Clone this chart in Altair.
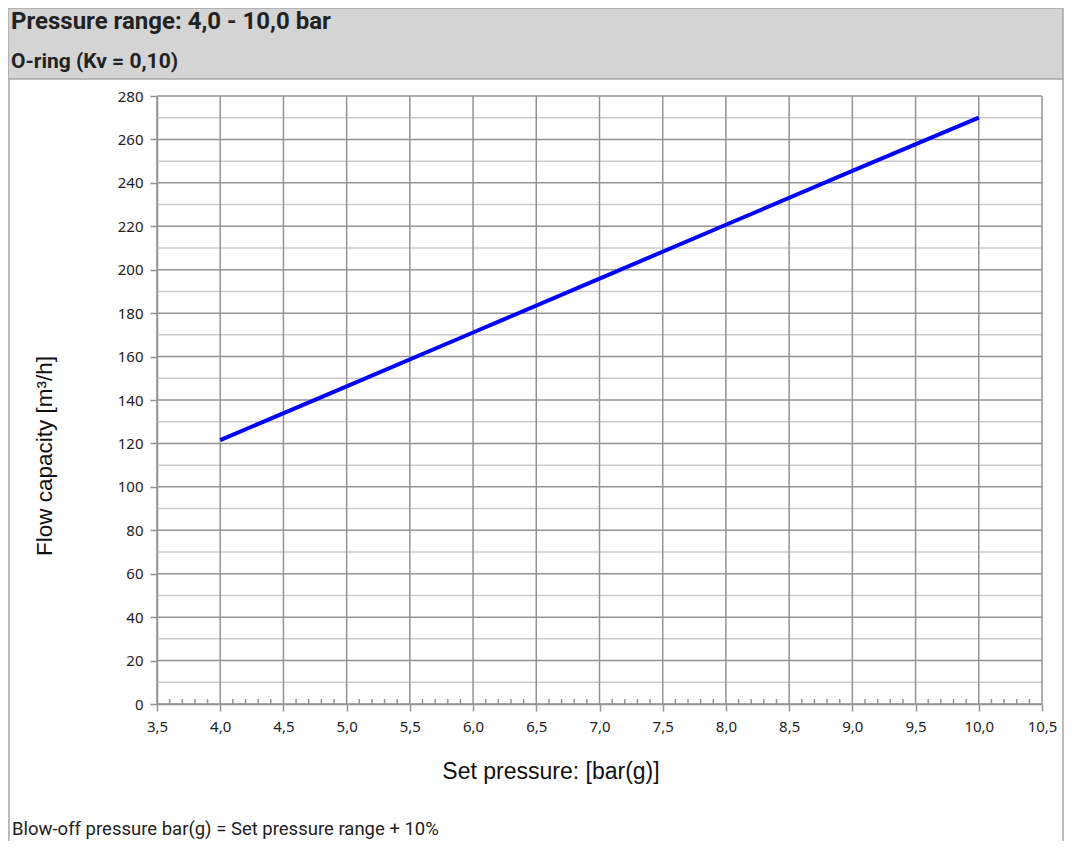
import altair as alt
import pandas as pd

# ---- data ----
pressure = [4.0, 5.0, 6.0, 7.0, 8.0, 9.0, 10.0]
flow = [121.5, 146.3, 171.1, 195.9, 220.7, 245.5, 270.0]

x_ticks = [3.5, 4.0, 4.5, 5.0, 5.5, 6.0, 6.5, 7.0, 7.5, 8.0, 8.5, 9.0, 9.5, 10.0, 10.5]
y_ticks = [0, 20, 40, 60, 80, 100, 120, 140, 160, 180, 200, 220, 240, 260, 280]
y_minor = [10, 30, 50, 70, 90, 110, 130, 150, 170, 190, 210, 230, 250, 270]
x_minor = [round(3.5 + i * 0.1, 1) for i in range(71) if i % 5 != 0]

title1 = "Pressure range: 4,0 - 10,0 bar"
title2 = "O-ring (Kv = 0,10)"
x_title = "Set pressure: [bar(g)]"
y_title = "Flow capacity [m³/h]"
note = "Blow-off pressure bar(g) = Set pressure range + 10%"

W, H = 885, 608
PAD = {"left": 149, "top": 88, "right": 22, "bottom": 137}

MAJOR = "#939393"
MINOR = "#cccccc"
TXT = "#222222"

xs = alt.Scale(domain=[3.5, 10.5], nice=False, zero=False)
ys = alt.Scale(domain=[0, 280], nice=False, zero=True)

x_axis = alt.Axis(
    values=x_ticks,
    labelExpr="replace(format(datum.value, '.1f'), '.', ',')",
    title=None,
    grid=False,
    domainColor=MAJOR,
    domainWidth=1.5,
    tickColor=MAJOR,
    tickWidth=1.5,
    tickSize=7,
    labelFont="Noto Sans",
    labelFontSize=15,
    labelColor=TXT,
    labelPadding=8,
    labelFlush=False,
    labelOverlap=False,
)
y_axis = alt.Axis(
    values=y_ticks,
    format="d",
    title=None,
    grid=False,
    domainColor=MAJOR,
    domainWidth=1.5,
    tickColor=MAJOR,
    tickWidth=1.5,
    tickSize=7,
    labelFont="Noto Sans",
    labelFontSize=15,
    labelColor=TXT,
    labelPadding=7,
    labelOverlap=False,
)

one = pd.DataFrame({"a": [0]})

header = alt.Chart(one).mark_rect(fill="#d4d4d4", stroke="#a6a6a6", strokeWidth=1.5).encode(
    x=alt.value(-149), x2=alt.value(906), y=alt.value(-88), y2=alt.value(-17)
)
border_l = alt.Chart(one).mark_rule(color="#a6a6a6", strokeWidth=1.5).encode(
    x=alt.value(-148), y=alt.value(-17), y2=alt.value(745)
)
border_r = alt.Chart(one).mark_rule(color="#a6a6a6", strokeWidth=1.5).encode(
    x=alt.value(906), y=alt.value(-17), y2=alt.value(745)
)

minor_h = alt.Chart(pd.DataFrame({"v": y_minor})).mark_rule(color=MINOR, strokeWidth=1.5).encode(
    y=alt.Y("v:Q", scale=ys, axis=y_axis)
)
major_h = alt.Chart(pd.DataFrame({"v": y_ticks})).mark_rule(color=MAJOR, strokeWidth=1.5).encode(
    y=alt.Y("v:Q", scale=ys, axis=y_axis)
)
major_v = alt.Chart(pd.DataFrame({"v": x_ticks})).mark_rule(color=MAJOR, strokeWidth=1.5).encode(
    x=alt.X("v:Q", scale=xs, axis=x_axis)
)
minor_t = alt.Chart(pd.DataFrame({"v": x_minor})).mark_rule(color=MAJOR, strokeWidth=1.5).encode(
    x=alt.X("v:Q", scale=xs, axis=x_axis), y=alt.value(H - 5), y2=alt.value(H)
)

df = pd.DataFrame({"p": pressure, "f": flow})
line = alt.Chart(df).mark_line(color="#0000ff", strokeWidth=4).encode(
    x=alt.X("p:Q", scale=xs, axis=x_axis),
    y=alt.Y("f:Q", scale=ys, axis=y_axis),
)


def txt(s, x, y, **kw):
    return alt.Chart(pd.DataFrame({"t": [s]})).mark_text(**kw).encode(
        text="t:N", x=alt.value(x), y=alt.value(y)
    )


t1 = txt(title1, -146, -67, align="left", baseline="alphabetic", font="Roboto",
         fontWeight="bold", fontSize=24, color=TXT)
t2 = txt(title2, -146, -28, align="left", baseline="alphabetic", font="Roboto",
         fontWeight="bold", fontSize=21, color=TXT)
tx = txt(x_title, 394, 683, align="center", baseline="alphabetic", font="Liberation Sans",
         fontSize=23, color="#111111")
ty = txt(y_title, -112, 360, align="center", baseline="middle", angle=270,
         font="Liberation Sans", fontSize=22.5, color="#111111")
tn = txt(note, -145, 739, align="left", baseline="alphabetic", font="Roboto",
         fontSize=18.5, color=TXT)

chart = alt.layer(
    header, border_l, border_r, minor_h, major_h, major_v, minor_t, line, t1, t2, tx, ty, tn
).properties(
    width=W,
    height=H,
    padding=PAD,
    autosize=alt.AutoSizeParams(type="none"),
    background="white",
).configure_view(stroke=None)

chart.save("out.html", embed_options={"renderer": "svg", "actions": False})
